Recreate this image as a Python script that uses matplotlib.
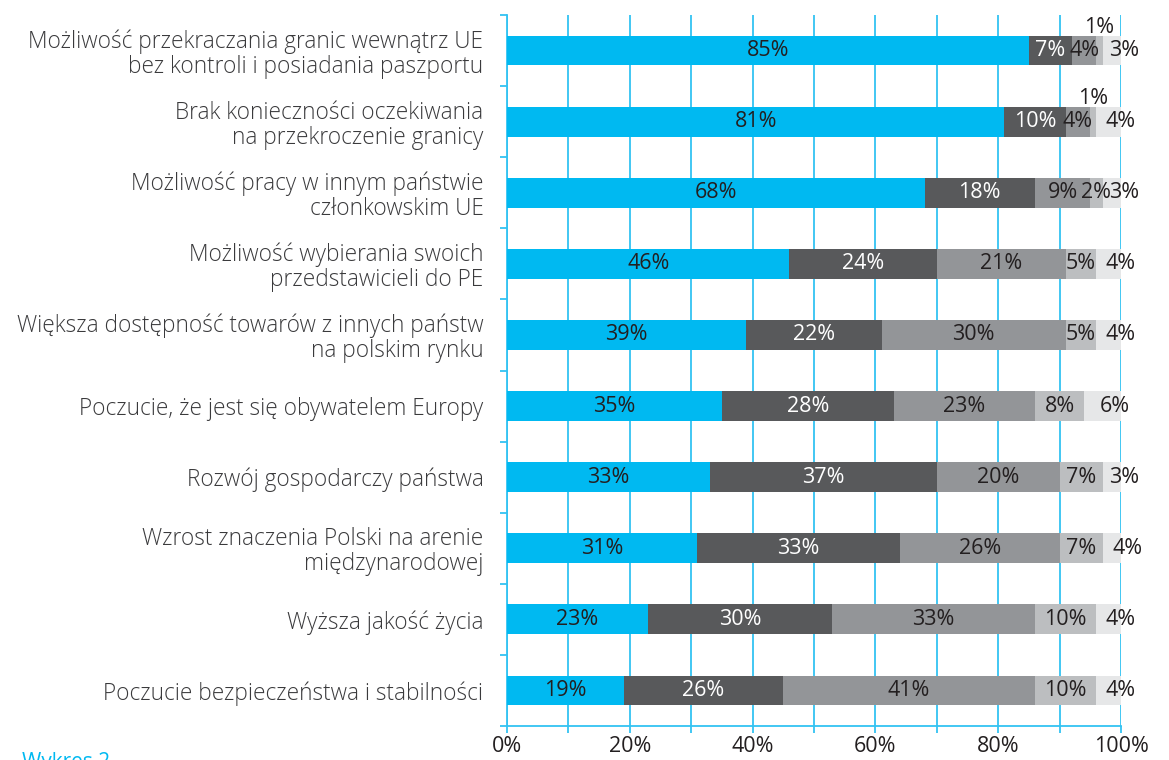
import numpy as np
import matplotlib.pyplot as plt

plt.rcParams['font.family'] = ['Open Sans', 'DejaVu Sans']

categories = [
    "Możliwość przekraczania granic wewnątrz UE\nbez kontroli i posiadania paszportu",
    "Brak konieczności oczekiwania\nna przekroczenie granicy",
    "Możliwość pracy w innym państwie\nczłonkowskim UE",
    "Możliwość wybierania swoich\nprzedstawicieli do PE",
    "Większa dostępność towarów z innych państw\nna polskim rynku",
    "Poczucie, że jest się obywatelem Europy",
    "Rozwój gospodarczy państwa",
    "Wzrost znaczenia Polski na arenie\nmiędzynarodowej",
    "Wyższa jakość życia",
    "Poczucie bezpieczeństwa i stabilności",
]

# five answer groups, values in %
s1 = [85, 81, 68, 46, 39, 35, 33, 31, 23, 19]
s2 = [7, 10, 18, 24, 22, 28, 37, 33, 30, 26]
s3 = [4, 4, 9, 21, 30, 23, 20, 26, 33, 41]
s4 = [1, 1, 2, 5, 5, 8, 7, 7, 10, 10]
s5 = [3, 4, 3, 4, 4, 6, 3, 4, 4, 4]

series = [s1, s2, s3, s4, s5]
colors = ["#00B9F1", "#58595B", "#939598", "#BCBEC0", "#E6E7E8"]
text_colors = ["#231F20", "white", "#231F20", "#231F20", "#231F20"]
grid_c = "#33C3F2"

fig = plt.figure(figsize=(11.69, 7.6), dpi=100)
ax = fig.add_axes([507 / 1169, 34 / 760, 614 / 1169, 711 / 760])

y = np.arange(len(categories))
left = np.zeros(len(categories))
for k, (vals, c, tc) in enumerate(zip(series, colors, text_colors)):
    vals = np.array(vals, dtype=float)
    ax.barh(y, vals, left=left, height=0.42, color=c, zorder=3)
    for i, v in enumerate(vals):
        cx = left[i] + v / 2
        cy = y[i]
        if v <= 1:
            cy = y[i] - 0.33
        if k == 4:
            cx += 2.0
        ax.text(cx, cy, f"{int(v)}%", ha='center', va='center',
                fontsize=15.5, color=tc, zorder=4)
    left += vals

ax.set_xlim(0, 100)
ax.set_ylim(9.5, -0.5)
ax.set_xticks(np.arange(0, 101, 10), minor=True)
ax.set_xticks(np.arange(0, 101, 20))
ax.set_xticklabels([f"{t}%" for t in range(0, 101, 20)], fontsize=15.5, color="#231F20")
ax.xaxis.grid(True, which='both', color=grid_c, lw=1.3, zorder=0)
ax.set_yticks(y)
ax.set_yticklabels(categories, fontsize=16.3, color="#3A3A3C", fontweight='light',
                   linespacing=1.05)
ax.set_yticks(np.arange(-0.5, 10, 1), minor=True)
ax.tick_params(axis='y', which='major', length=0, pad=17)
ax.tick_params(axis='y', which='minor', length=5, color=grid_c, width=1.3)
ax.tick_params(axis='x', which='both', length=5, color=grid_c, width=1.3, pad=2)
for s in ['top', 'right']:
    ax.spines[s].set_visible(False)
for s in ['left', 'bottom']:
    ax.spines[s].set_color(grid_c)
    ax.spines[s].set_linewidth(1.3)

fig.text(22 / 1169, 8 / 760, "Wykres 2", color="#00B9F1", fontsize=15, va='top')

fig.savefig("out.png", dpi=100)
